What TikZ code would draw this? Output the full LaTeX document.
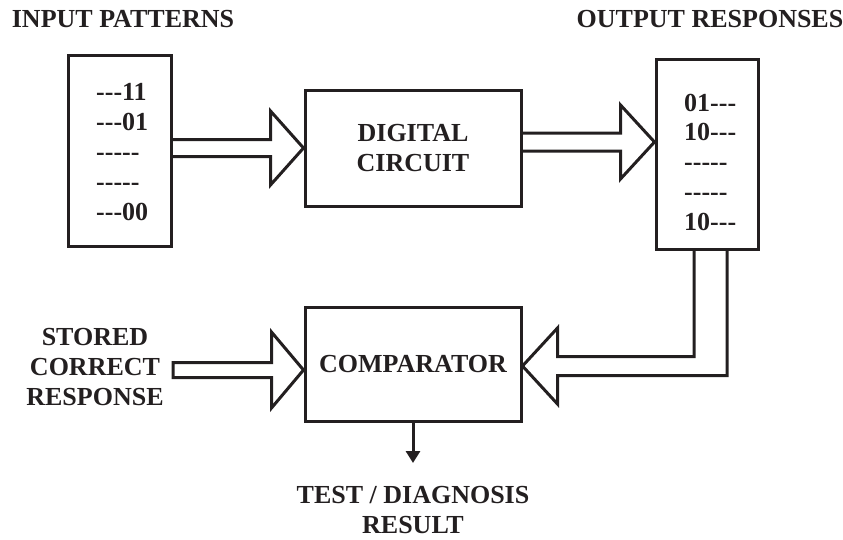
\documentclass[tikz,border=0pt]{standalone}
\usepackage{fontspec}
\newfontfamily\lblfont{Liberation Serif}
\usetikzlibrary{arrows.meta,calc}
\definecolor{ink}{RGB}{35,31,32}

% Right-pointing block arrow: from #1 to tip #2, shaft half-width #3,
% head length #4, head half-width #5, path tail #6
\newcommand\rblockarrow[6]{%
  \draw[outline] ($(#1)+(0,-#3)$) -- ($(#2)+(-#4,-#3)$) -- ($(#2)+(-#4,-#5)$)
    -- (#2) -- ($(#2)+(-#4,#5)$) -- ($(#2)+(-#4,#3)$) -- ($(#1)+(0,#3)$) #6;}

\begin{document}
\begin{tikzpicture}[x=1pt,y=-1pt,
  lbl/.style={font=\lblfont\bfseries\fontsize{26}{30}\selectfont, text=ink, inner sep=0pt},
  box/.style={lbl, draw=ink, line width=3pt},
  outline/.style={draw=ink, line width=3pt, line join=miter},
]
\useasboundingbox (0,0) rectangle (843,539);

% titles
\node[lbl] (tin) at (123,19) {INPUT PATTERNS};
\node[lbl] (tout) at (710,19) {OUTPUT RESPONSES};

% blocks
\node[box, minimum width=103pt, minimum height=191pt] (in) at (119.5,150.5) {};
\node[box, minimum width=102pt, minimum height=190pt] (out) at (707,154) {};
\node[box, align=center, minimum width=216pt, minimum height=116pt] (dc) at (413,148) {DIGITAL\\CIRCUIT};
\node[box, minimum width=216pt, minimum height=114pt] (cmp) at (413,364) {COMPARATOR};

% pattern lists
\foreach \t [count=\k from 0] in {---11,---01,-----,-----,---00}
  \node[lbl, anchor=base west] (i\k) at (96,{100.5+30*\k}) {\t};
\foreach \t [count=\k from 0] in {01---,10---,-----,-----,10---}
  \node[lbl, anchor=base west] (o\k) at (684,{111+29.8*\k}) {\t};

% side and bottom labels
\node[lbl, align=center] (scr) at (95,367) {STORED\\CORRECT\\RESPONSE};
\node[lbl, align=center] (res) at (413,510) {TEST / DIAGNOSIS\\RESULT};

% arrow anchors
\coordinate (a1s) at (in.east |- dc.west);
\coordinate (a1t) at (dc.west);
\coordinate (a2s) at ([yshift=6pt]dc.east);
\coordinate (a2t) at (out.west |- a2s);
\coordinate (sc) at (173,370);
\coordinate (sct) at (cmp.west |- sc);
\coordinate (bt) at ([yshift=-2pt]cmp.east);
\coordinate (rt) at (413,463);

% block arrows
\rblockarrow{a1s}{a1t}{8.5}{33}{37}{}
\rblockarrow{a2s}{a2t}{9}{34}{37}{}
\rblockarrow{sc}{sct}{7.5}{32}{38}{-- cycle}

% bent feedback arrow into the comparator
\draw[outline] ($(out.south)+(-13,0)$) |- ($(bt)+(35,-9.5)$) -- ($(bt)+(35,-38)$)
  -- (bt) -- ($(bt)+(35,38)$) -- ($(bt)+(35,9.5)$) -| ($(out.south)+(20,0)$);

% result arrow
\draw[ink, line width=3pt, -{Triangle[length=12pt,width=14pt]}] (cmp.south) -- (rt);
\end{tikzpicture}
\end{document}
